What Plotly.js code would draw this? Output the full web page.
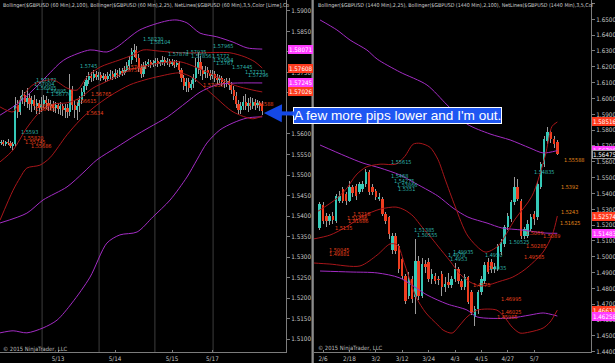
<!DOCTYPE html>
<html><head><meta charset="utf-8">
<script src="https://cdn.plot.ly/plotly-3.0.1.min.js"></script>
<style>html,body{margin:0;padding:0;background:#000;}#chart{width:615px;height:363px;}</style>
</head><body><div id="chart"></div>
<script>
// ===================== LEFT PANEL: $GBPUSD 60 Min =====================
const leftDates = ['5/13','5/14','5/15','5/17'];
const leftDateBars = [24, 48, 72, 89];
const leftSessionBreaks = [17.3, 41.3, 64.8, 89.3];

const leftOpen = [1.5578,1.5581,1.5576,1.5581,1.5578,1.5571,1.5576,1.5671,1.5654,1.5683,
1.5695,1.5678,1.5688,1.5673,1.5683,1.5668,1.5676,1.5663,1.5673,1.5683,
1.5676,1.5668,1.5673,1.5663,1.5671,1.5661,1.5668,1.5659,1.5663,1.5654,
1.5707,1.5671,1.5659,1.5668,1.5683,1.5702,1.5717,1.5732,1.5741,1.5737,
1.5746,1.5739,1.5744,1.5737,1.5741,1.5734,1.5741,1.5746,1.5739,1.5749,
1.5744,1.5754,1.5749,1.5756,1.5766,1.5780,1.5800,1.5805,1.5785,1.5761,
1.5746,1.5766,1.5771,1.5776,1.5768,1.5773,1.5778,1.5771,1.5776,1.5780,
1.5773,1.5778,1.5771,1.5776,1.5768,1.5773,1.5756,1.5737,1.5717,1.5727,
1.5712,1.5722,1.5737,1.5761,1.5776,1.5756,1.5746,1.5756,1.5749,1.5741,
1.5746,1.5737,1.5732,1.5737,1.5727,1.5722,1.5729,1.5719,1.5707,1.5693,
1.5673,1.5659,1.5668,1.5678,1.5668,1.5676,1.5668,1.5678,1.5671,1.5676,
1.5673];
const leftHigh = [1.5585,1.5585,1.5583,1.5588,1.5583,1.5581,1.5690,1.5683,1.5693,1.5707,
1.5702,1.5712,1.5698,1.5693,1.5695,1.5685,1.5683,1.5690,1.5695,1.5693,
1.5685,1.5683,1.5680,1.5678,1.5676,1.5678,1.5673,1.5673,1.5673,1.5746,
1.5717,1.5683,1.5678,1.5693,1.5712,1.5727,1.5741,1.5751,1.5751,1.5756,
1.5754,1.5751,1.5751,1.5749,1.5746,1.5751,1.5756,1.5754,1.5759,1.5756,
1.5761,1.5761,1.5766,1.5776,1.5790,1.5810,1.5820,1.5815,1.5795,1.5771,
1.5776,1.5778,1.5783,1.5780,1.5780,1.5785,1.5785,1.5780,1.5790,1.5788,
1.5785,1.5783,1.5783,1.5780,1.5780,1.5778,1.5761,1.5744,1.5737,1.5737,
1.5732,1.5746,1.5785,1.5800,1.5790,1.5766,1.5766,1.5763,1.5756,1.5756,
1.5754,1.5746,1.5744,1.5741,1.5734,1.5737,1.5737,1.5727,1.5717,1.5702,
1.5683,1.5678,1.5693,1.5698,1.5688,1.5690,1.5688,1.5685,1.5683,1.5680,
1.5680];
const leftLow = [1.5573,1.5571,1.5571,1.5573,1.5566,1.5561,1.5568,1.5639,1.5646,1.5673,
1.5668,1.5663,1.5659,1.5654,1.5659,1.5649,1.5649,1.5654,1.5663,1.5661,
1.5656,1.5659,1.5654,1.5651,1.5649,1.5646,1.5644,1.5639,1.5639,1.5644,
1.5659,1.5639,1.5634,1.5654,1.5673,1.5693,1.5707,1.5722,1.5727,1.5729,
1.5732,1.5732,1.5729,1.5732,1.5727,1.5729,1.5734,1.5732,1.5734,1.5737,
1.5739,1.5741,1.5744,1.5751,1.5756,1.5771,1.5788,1.5776,1.5751,1.5737,
1.5739,1.5759,1.5763,1.5761,1.5763,1.5766,1.5763,1.5766,1.5768,1.5766,
1.5768,1.5763,1.5766,1.5761,1.5763,1.5746,1.5727,1.5707,1.5702,1.5702,
1.5707,1.5712,1.5727,1.5746,1.5741,1.5732,1.5737,1.5737,1.5732,1.5734,
1.5727,1.5722,1.5724,1.5717,1.5712,1.5715,1.5707,1.5698,1.5683,1.5663,
1.5649,1.5649,1.5659,1.5659,1.5654,1.5659,1.5661,1.5659,1.5663,1.5656,
1.5646];
const leftClose = [1.5581,1.5576,1.5581,1.5578,1.5571,1.5576,1.5671,1.5654,1.5683,1.5695,
1.5678,1.5688,1.5673,1.5683,1.5668,1.5676,1.5663,1.5673,1.5683,1.5676,
1.5668,1.5673,1.5663,1.5671,1.5661,1.5668,1.5659,1.5663,1.5654,1.5707,
1.5671,1.5659,1.5668,1.5683,1.5702,1.5717,1.5732,1.5741,1.5737,1.5746,
1.5739,1.5744,1.5737,1.5741,1.5734,1.5741,1.5746,1.5739,1.5749,1.5744,
1.5754,1.5749,1.5756,1.5766,1.5780,1.5800,1.5805,1.5785,1.5761,1.5746,
1.5766,1.5771,1.5776,1.5768,1.5773,1.5778,1.5771,1.5776,1.5780,1.5773,
1.5778,1.5771,1.5776,1.5768,1.5773,1.5756,1.5737,1.5717,1.5727,1.5712,
1.5722,1.5737,1.5761,1.5776,1.5756,1.5746,1.5756,1.5749,1.5741,1.5746,
1.5737,1.5732,1.5737,1.5727,1.5722,1.5729,1.5719,1.5707,1.5693,1.5673,
1.5659,1.5668,1.5678,1.5668,1.5676,1.5668,1.5678,1.5671,1.5676,1.5668,
1.5656];

// Bollinger(2,100) - magenta
const leftBB100UpX = [-0.4,8,16.4,24.8,27.8,37.5,44.6,48.8,58.5,69.9,74.1,78.3,83.8,90.9,97.7,103.6,110];
const leftBB100Up  = [1.5646,1.5678,1.5724,1.5773,1.5785,1.5805,1.5800,1.5812,1.5854,1.5876,1.5878,1.5871,1.5846,1.5837,1.5824,1.5810,1.58071];
const leftBB100MidX = [-0.4,10.9,17.7,27.8,34.5,40.4,48.8,55.6,62.7,69.9,78.3,83.8,90.9,97.7,110];
const leftBB100Mid  = [1.5383,1.5407,1.5439,1.5471,1.5505,1.5537,1.5568,1.5593,1.5617,1.5641,1.5678,1.5702,1.5720,1.5724,1.57245];
const leftBB100LoX = [-0.4,5.1,10.9,17.7,23.6,29.9,37.5,44.6,50.1,57.3,64,71.2,78.3,82.5,86.7,92.2,97.7,103.6,110];
const leftBB100Lo  = [1.5115,1.5120,1.5115,1.5127,1.5146,1.5188,1.5251,1.5334,1.5354,1.5361,1.5398,1.5439,1.5495,1.5537,1.5578,1.5610,1.5627,1.5639,1.56419];
// Bollinger(2,25) - dark red
const leftBB25UpX = [-0.4,5.1,8,13.5,21.9,27.8,32,36.2,41.7,50.1,55.6,59.8,66.9,75.4,83.8,96.4,102.7,106.9,110];
const leftBB25Up  = [1.5666,1.5654,1.5683,1.5720,1.5732,1.5712,1.5707,1.5739,1.5763,1.5781,1.5793,1.5805,1.5802,1.5798,1.5798,1.5798,1.5788,1.5776,1.57608];
const leftBB25MidX = [-0.4,5.1,10.9,16.4,21.9,27.8,33.3,38.7,45.9,54.3,58.5,66.9,75.4,80.8,89.3,97.7,106.1,110];
const leftBB25Mid  = [1.5532,1.5561,1.5615,1.5654,1.5673,1.5676,1.5688,1.5712,1.5732,1.5756,1.5763,1.5773,1.5776,1.5766,1.5744,1.5720,1.5707,1.57026];
const leftBB25LoX = [-0.4,5.1,8,10.9,16.4,20.6,27.8,33.3,38.7,45.9,54.3,60.6,66.9,75.4,80.8,89.3,97.7,106.1,110];
const leftBB25Lo  = [1.5390,1.5463,1.5493,1.5517,1.5524,1.5542,1.5598,1.5634,1.5663,1.5693,1.5720,1.5732,1.5741,1.5749,1.5737,1.5695,1.5654,1.5637,1.56444];

// NetLines labels: [bar, price, text, kind]
const leftNet = [
 [8.0,1.5595,'1.5593','t'],[8.8,1.5580,'1.55820','r'],[9.7,1.5571,'1.55745','r'],[12.2,1.5561,'1.55686','r'],
 [14.5,1.5722,'1.57172','t'],[13.4,1.5712,'1.57004','t'],[14.5,1.5702,'1.56985','t'],[18.6,1.5695,'1.56895','t'],[20.6,1.5688,'1.56776','t'],
 [13.8,1.5659,'1.56546','r'],[13.8,1.5651,'1.56485','r'],[31.0,1.5671,'1.56615','r'],[37.5,1.5688,'1.56765','r'],[35.5,1.5641,'1.5634','r'],
 [33.0,1.5756,'1.5745','t'],[59.5,1.5822,'1.58230','t'],[62.5,1.5815,'1.58104','t'],[52.0,1.5754,'1.57668','r'],[51.0,1.5746,'1.57586','r'],
 [70.0,1.5785,'1.57878','t'],[77.5,1.5790,'1.57935','t'],[79.5,1.5780,'1.57856','t'],[89.0,1.5805,'1.57965','t'],[88.5,1.5780,'1.5772','t'],
 [89.0,1.5771,'1.57684','t'],[90.0,1.5763,'1.5767','t'],[97.0,1.5754,'1.57445','t'],[102.5,1.5741,'1.57233','t'],[103.5,1.5734,'1.57296','t'],
 [84.5,1.5710,'1.57056','r'],[105.5,1.5663,'1.56588','r']
];
// Right-scale tags: [price, text, kind]
const leftTags = [[1.58071,'1.58071','m'],[1.57608,'1.57608','r'],[1.57245,'1.57245','m'],[1.57026,'1.57026','r']];

// ===================== RIGHT PANEL: $GBPUSD 1440 Min =====================
const rightDates = ['2/6','2/18','3/2','3/12','3/24','4/3','4/15','4/27','5/7'];
const rightDateBars = [1, 9, 17, 25, 33, 41, 49, 57, 65];

const rightOpen = [1.5181,1.5326,1.5257,1.5226,1.5257,1.5226,1.5352,1.5427,1.5396,1.5352,
1.5440,1.5445,1.5408,1.5427,1.5459,1.5534,1.5440,1.5415,1.5364,1.5364,
1.5270,1.5251,1.5040,1.5131,1.5068,1.4986,1.4879,1.4753,1.4860,1.4746,
1.4973,1.4753,1.4954,1.4967,1.4860,1.4879,1.4860,1.4891,1.4809,1.4840,
1.4820,1.4860,1.4923,1.4847,1.4809,1.4872,1.4778,1.4620,1.4671,1.4778,
1.4847,1.4967,1.4967,1.4920,1.4923,1.5030,1.5080,1.5188,1.5238,1.5345,
1.5440,1.5352,1.5131,1.5131,1.5175,1.5270,1.5251,1.5440,1.5585,1.5730,
1.5787,1.5742,1.5724];
const rightHigh = [1.5345,1.5345,1.5275,1.5270,1.5280,1.5396,1.5415,1.5440,1.5410,1.5478,
1.5455,1.5460,1.5470,1.5480,1.5553,1.5547,1.5460,1.5430,1.5400,1.5380,
1.5285,1.5260,1.5150,1.5150,1.5080,1.5000,1.4890,1.4904,1.4880,1.5112,
1.5005,1.4990,1.4980,1.4990,1.4920,1.4900,1.4880,1.4910,1.4870,1.4900,
1.4880,1.4960,1.4935,1.4860,1.4890,1.4880,1.4790,1.4690,1.4790,1.4880,
1.4965,1.4990,1.4985,1.4960,1.5080,1.5110,1.5200,1.5275,1.5360,1.5503,
1.5490,1.5365,1.5190,1.5230,1.5270,1.5290,1.5480,1.5600,1.5761,1.5818,
1.5800,1.5760,1.5740];
const rightLow = [1.5169,1.5207,1.5190,1.5200,1.5210,1.5215,1.5340,1.5340,1.5330,1.5345,
1.5380,1.5360,1.5395,1.5410,1.5440,1.5390,1.5390,1.5360,1.5350,1.5260,
1.5210,1.5112,1.5020,1.5020,1.4900,1.4860,1.4702,1.4734,1.4710,1.4639,
1.4730,1.4740,1.4900,1.4840,1.4830,1.4830,1.4820,1.4753,1.4780,1.4800,
1.4800,1.4840,1.4830,1.4790,1.4790,1.4700,1.4630,1.4564,1.4640,1.4760,
1.4830,1.4890,1.4900,1.4900,1.4910,1.5010,1.5060,1.5170,1.5220,1.5330,
1.5350,1.5110,1.5110,1.5120,1.5160,1.5200,1.5230,1.5430,1.5570,1.5715,
1.5720,1.5690,1.5640];
const rightClose = [1.5333,1.5226,1.5226,1.5257,1.5230,1.5383,1.5383,1.5352,1.5352,1.5440,
1.5400,1.5383,1.5459,1.5459,1.5534,1.5408,1.5408,1.5377,1.5377,1.5270,
1.5226,1.5144,1.5131,1.5036,1.4923,1.4879,1.4721,1.4860,1.4734,1.4973,
1.4753,1.4954,1.4935,1.4860,1.4891,1.4847,1.4855,1.4809,1.4830,1.4820,
1.4860,1.4923,1.4847,1.4809,1.4872,1.4715,1.4652,1.4671,1.4778,1.4860,
1.4950,1.4904,1.4920,1.4935,1.5068,1.5093,1.5188,1.5257,1.5345,1.5440,
1.5364,1.5131,1.5175,1.5207,1.5251,1.5240,1.5459,1.5585,1.5742,1.5787,
1.5742,1.5711,1.5648];

const rightBB25UpX = [-0.5,4.9,8,11,14,18.3,23.1,25.8,28.3,30.4,33.4,35.8,38,41,44.9,50.1,54,59.2,64.3,68.3,70.4,72];
const rightBB25Up  = [1.5288,1.5364,1.5427,1.5516,1.5566,1.5585,1.5585,1.5635,1.5711,1.5717,1.5692,1.5616,1.5490,1.5320,1.5131,1.5030,1.5068,1.5238,1.5383,1.5635,1.5824,1.58516];
const rightBB25MidX = [-2,3.1,8,13.1,18.3,23.1,25.8,28.3,31,33.4,35.8,39.5,42.5,45.5,48.6,51.6,54.6,58.3,62.2,67.7,70.5,72];
const rightBB25Mid  = [1.5112,1.5137,1.5188,1.5257,1.5301,1.5314,1.5295,1.5257,1.5188,1.5131,1.5068,1.4973,1.4891,1.4841,1.4816,1.4825,1.4845,1.4870,1.4920,1.5030,1.5140,1.52574];
const rightBB25LoX = [-2,3.1,12.2,17.4,21.3,23.5,25.8,29.2,32.2,35.8,37.4,40.1,42.5,44.6,47.7,53.7,56.2,58.3,60.7,63.7,67.7,69.8,72];
const rightBB25Lo  = [1.4961,1.4954,1.4942,1.5011,1.5081,1.5075,1.4948,1.4746,1.4645,1.4569,1.4537,1.4518,1.4569,1.4619,1.4663,1.4663,1.4613,1.4556,1.4518,1.4525,1.4550,1.4588,1.46631];
const rightBB100UpX = [0.1,5.2,9.2,14.3,17.4,24.3,32.5,38.6,44.6,51.6,57.7,63.7,67.7,72];
const rightBB100Up  = [1.6496,1.6433,1.6369,1.6306,1.6249,1.6167,1.6085,1.5959,1.5839,1.5776,1.5738,1.5687,1.5656,1.56708];
const rightBB100MidX = [0.1,7.7,13.1,18.3,24.3,28.3,35.8,40.4,44.9,50.7,55.2,61.3,68.3,72];
const rightBB100Mid  = [1.5706,1.5637,1.5592,1.5561,1.5517,1.5472,1.5384,1.5308,1.5251,1.5213,1.5182,1.5169,1.5150,1.51483];
const rightBB100LoX = [0.1,9.2,17.4,24.3,32.5,38.6,44.6,47.7,57.7,63.7,67.7,72];
const rightBB100Lo  = [1.4910,1.4904,1.4898,1.4866,1.4759,1.4702,1.4664,1.4620,1.4613,1.4632,1.4645,1.46258];

const rightNet = [
 [21.3,1.5573,'1.55615','t'],[21.3,1.5485,'1.5468','t'],[22.2,1.5453,'1.54275','t'],[23.1,1.5428,'1.53866','t'],[23.4,1.5403,'1.5351','t'],
 [9.8,1.5245,'1.5218','r'],[8.0,1.5220,'1.51786','r'],[8.3,1.5201,'1.51686','r'],[4.3,1.5157,'1.5135','r'],
 [2.5,1.5018,'1.50045','r'],[2.5,1.4993,'1.49881','r'],[28.3,1.5144,'1.51385','t'],[29.2,1.5112,'1.50555','t'],
 [40.1,1.5005,'1.49935','t'],[38.6,1.4986,'1.4978','t'],[39.2,1.4961,'1.4953','t'],[49.8,1.4986,'1.4950','t'],[51.0,1.4904,'1.4935','t'],
 [46.2,1.4797,'1.4775','r'],[54.6,1.4711,'1.46995','r'],[54.6,1.4626,'1.46025','r'],[53.4,1.4594,'1.45985','r'],
 [57.1,1.5068,'1.50525','t'],[62.2,1.5043,'1.50285','r'],[61.6,1.4973,'1.49585','r'],[62.2,1.5125,'1.5069','r'],[67.4,1.5106,'1.5089','r'],
 [64.6,1.5510,'1.54835','t'],[73.7,1.5586,'1.55588','o'],[72.8,1.5416,'1.5392','o'],[72.8,1.5258,'1.5243','o'],[72.5,1.5188,'1.51625','o']
];
const rightTags = [[1.58516,'1.58516','r'],[1.56708,'1.56708','m'],[1.56475,'1.56475','k'],[1.52574,'1.52574','r'],[1.51483,'1.51483','m'],[1.46631,'1.46631','r'],[1.46258,'1.46258','m']];

const leftHeader = 'Bollinger($GBPUSD (60 Min),2,100), Bollinger($GBPUSD (60 Min),2,25), NetLines($GBPUSD (60 Min),3,5,Color [Lime],Co';
const rightHeader = 'Bollinger($GBPUSD (1440 Min),2,25), Bollinger($GBPUSD (1440 Min),2,100), NetLines($GBPUSD (1440 Min),3,5,Col';
const calloutText = "A few more pips lower and I'm out.";
const copyright = '© 2015 NinjaTrader, LLC';

// ===================== STYLE =====================
const UP = '#35c9b8', DN = '#ee3d1f', DOJI = '#b8b8b8', WICK = '#9c9c9c';
const BBRED = '#a8161a', BBMAG = '#a32cc4';
const NETCOL = {t:'#2fb3aa', r:'#e8401c', o:'#e38a1c'};
const TAGCOL = {m:'#ff3cff', r:'#ff3b1e', k:'#000000'};
const NARROW = '"Liberation Sans Narrow", "Arial Narrow", "DejaVu Sans Condensed", "Liberation Sans", Arial, sans-serif';
const H = 363, W = 615;
const yDom = [11/H, 1];

function candles(o,h,l,c,xa,ya,bodyW,wickW,minH){
  const x = o.map((_,i)=>i);
  return [
    {type:'bar', x:x, base:l, y:h.map((v,i)=>v-l[i]), width:wickW, xaxis:xa, yaxis:ya,
     marker:{color:WICK, line:{width:0}}, hoverinfo:'skip'},
    {type:'bar', x:x, base:o.map((v,i)=>Math.min(v,c[i])), y:o.map((v,i)=>Math.max(Math.abs(c[i]-v),minH)),
     width:bodyW, xaxis:xa, yaxis:ya,
     marker:{color:o.map((v,i)=>c[i]>v?UP:(c[i]<v?DN:DOJI)), line:{width:0}}, hoverinfo:'skip'}
  ];
}
function band(x,y,col,xa,ya){
  return {type:'scatter', mode:'lines', x:x, y:y, xaxis:xa, yaxis:ya,
          line:{color:col, width:1, shape:'spline', smoothing:0.8}, hoverinfo:'skip'};
}

const traces = [
  band(leftBB100UpX,leftBB100Up,BBMAG,'x','y'), band(leftBB100MidX,leftBB100Mid,BBMAG,'x','y'), band(leftBB100LoX,leftBB100Lo,BBMAG,'x','y'),
  band(leftBB25UpX,leftBB25Up,BBRED,'x','y'), band(leftBB25MidX,leftBB25Mid,BBRED,'x','y'), band(leftBB25LoX,leftBB25Lo,BBRED,'x','y'),
  band(rightBB100UpX,rightBB100Up,BBMAG,'x2','y2'), band(rightBB100MidX,rightBB100Mid,BBMAG,'x2','y2'), band(rightBB100LoX,rightBB100Lo,BBMAG,'x2','y2'),
  band(rightBB25UpX,rightBB25Up,BBRED,'x2','y2'), band(rightBB25MidX,rightBB25Mid,BBRED,'x2','y2'), band(rightBB25LoX,rightBB25Lo,BBRED,'x2','y2'),
  ...candles(leftOpen,leftHigh,leftLow,leftClose,'x','y',0.9,0.42,0.00022),
  ...candles(rightOpen,rightHigh,rightLow,rightClose,'x2','y2',0.75,0.3,0.0005)
];

const annotations = [];
function net(list, xr, yr){
  list.forEach(([xv,pv,txt,k])=>{
    annotations.push({x:xv, y:pv, xref:xr, yref:yr, text:txt, showarrow:false, xanchor:'left', yanchor:'bottom',
      font:{family:NARROW, size:5.5, color:NETCOL[k]}, borderpad:0});
  });
}
net(leftNet,'x','y'); net(rightNet,'x2','y2');
function tags(list, xpx, yr){
  list.forEach(([pv,txt,k])=>{
    annotations.push({x:xpx/W, y:pv, xref:'paper', yref:yr, text:txt, showarrow:false, xanchor:'left', yanchor:'middle',
      bgcolor:TAGCOL[k], bordercolor:k==='k'?'#9a9a9a':TAGCOL[k], borderwidth:1, borderpad:0,
      font:{family:NARROW, size:6.2, color:'#ffffff'}});
  });
}
tags(leftTags, 288, 'y'); tags(rightTags, 592, 'y2');

annotations.push({x:1/W, y:1-5/H, xref:'paper', yref:'paper', text:leftHeader, showarrow:false, xanchor:'left', yanchor:'middle',
  font:{family:NARROW, size:5.3, color:'#cfcfcf'}});
annotations.push({x:316/W, y:1-5/H, xref:'paper', yref:'paper', text:rightHeader, showarrow:false, xanchor:'left', yanchor:'middle',
  font:{family:NARROW, size:5.3, color:'#cfcfcf'}});
annotations.push({x:1/W, y:1-349/H, xref:'paper', yref:'paper', text:copyright, showarrow:false, xanchor:'left', yanchor:'middle',
  font:{family:NARROW, size:5.8, color:'#bdbdbd'}});
annotations.push({x:316/W, y:1-348/H, xref:'paper', yref:'paper', text:copyright, showarrow:false, xanchor:'left', yanchor:'middle',
  font:{family:NARROW, size:5.8, color:'#bdbdbd'}});
// callout pointing at the last hourly bar
annotations.push({x:110.7, y:1.5651, xref:'x', yref:'y', text:calloutText, showarrow:true, ax:134, ay:2,
  arrowhead:2, arrowsize:0.9, arrowwidth:4, arrowcolor:'#1448e6', bgcolor:'#1f57f2', bordercolor:'#ffffff', borderwidth:1, borderpad:0,
  font:{family:'"Liberation Sans", Arial, sans-serif', size:13.6, color:'#ffffff'}});

const shapes = [];
leftSessionBreaks.forEach(b=>shapes.push({type:'line', xref:'x', yref:'paper', x0:b, x1:b, y0:yDom[0], y1:1, line:{color:'#3d3d3d', width:1}, layer:'below'}));
shapes.push({type:'rect', xref:'paper', yref:'paper', x0:311.5/W, x1:313.8/W, y0:0, y1:1, fillcolor:'#8c8c8c', line:{width:0}});

const axisCommon = {showgrid:false, zeroline:false, showline:true, linecolor:'#7c7c7c', linewidth:1,
  ticks:'outside', ticklen:3, tickcolor:'#7c7c7c', tickfont:{family:NARROW, size:6.3, color:'#c4c4c4'}, fixedrange:true};
const xCommon = {ticks:'inside', ticklen:2};

const layout = {
  width:W, height:H, margin:{l:0,r:0,t:0,b:0}, paper_bgcolor:'#000', plot_bgcolor:'#000',
  showlegend:false, barmode:'overlay', bargap:0, hovermode:false,
  xaxis:Object.assign({}, axisCommon, xCommon, {domain:[0,286/W], range:[-0.42,120], anchor:'y', tickmode:'array', tickvals:leftDateBars, ticktext:leftDates}),
  yaxis:Object.assign({}, axisCommon, {domain:yDom, range:[1.50683,1.59268], anchor:'x', side:'right', tick0:1.51, dtick:0.005, tickformat:'.4f'}),
  xaxis2:Object.assign({}, axisCommon, xCommon, {domain:[314/W,591/W], range:[-1.73,82.2], anchor:'y2', tickmode:'array', tickvals:rightDateBars, ticktext:rightDates}),
  yaxis2:Object.assign({}, axisCommon, {domain:yDom, range:[1.43985,1.66221], anchor:'x2', side:'right', tick0:1.45, dtick:0.01, tickformat:'.4f'}),
  annotations:annotations, shapes:shapes
};
Plotly.newPlot('chart', traces, layout, {staticPlot:true, displayModeBar:false});
</script></body></html>
